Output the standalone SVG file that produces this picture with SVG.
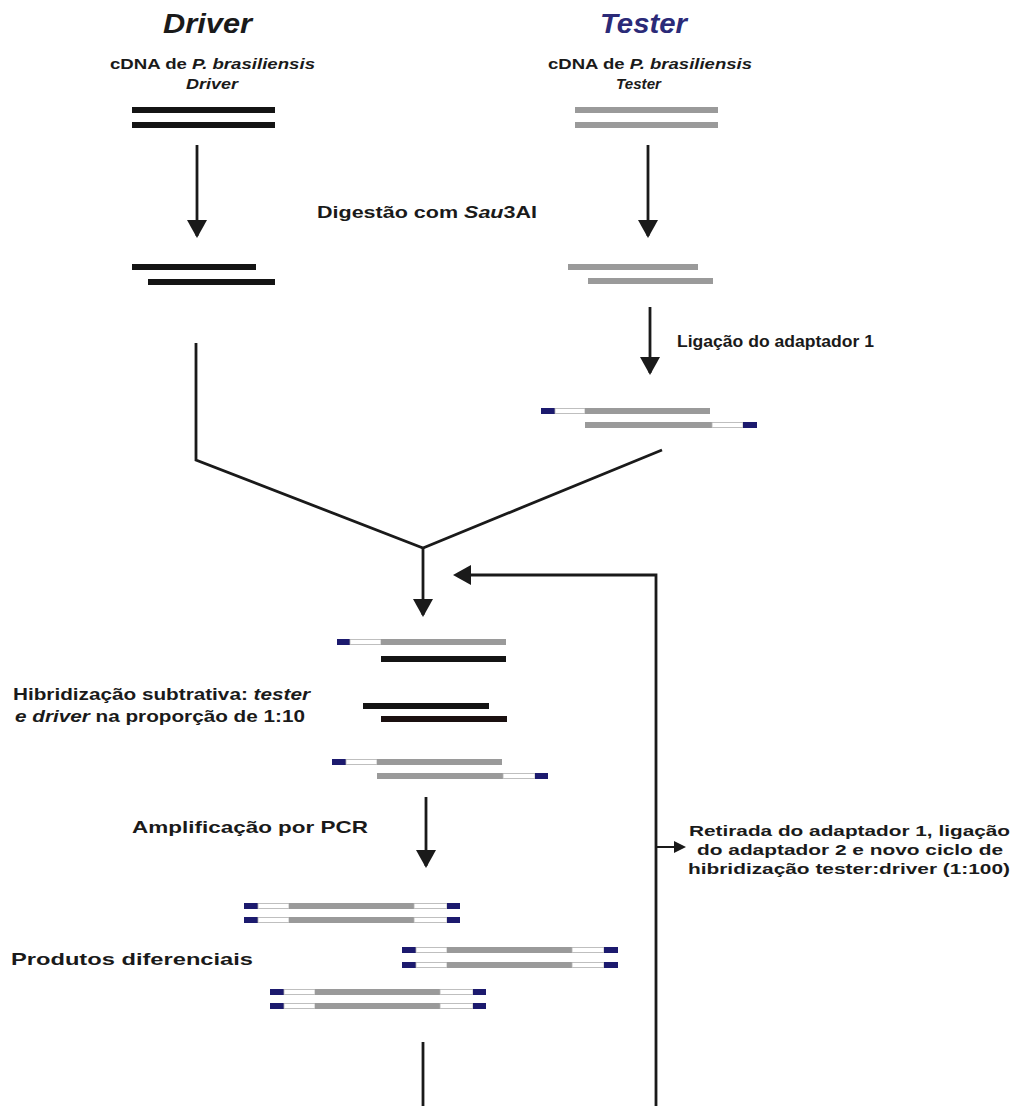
<svg xmlns="http://www.w3.org/2000/svg" width="1013" height="1106" viewBox="0 0 1013 1106">
<defs>
<style>
.t{font-family:"Liberation Sans",Arial,sans-serif;font-weight:bold;fill:#1a1a1a}
.title{font-size:28px;font-style:italic}
.sub{font-size:14.5px}
.lbl{font-size:17px}
.i{font-style:italic}
.blk{fill:#141414}
.gry{fill:#9a9a9a}
.wht{fill:#ffffff;stroke:#b0b0b0;stroke-width:0.8}
.blu{fill:#1c1a6e}
.ln{fill:none;stroke:#1a1a1a;stroke-width:2.8}
</style>
<marker id="ah" viewBox="0 0 10 10" refX="9" refY="5" markerWidth="18" markerHeight="18" markerUnits="userSpaceOnUse" orient="auto">
<path d="M0,0.5 L10,5 L0,9.5 z" fill="#1a1a1a"/>
</marker>
<marker id="ahb" viewBox="0 0 10 10" refX="9" refY="5" markerWidth="12" markerHeight="12" markerUnits="userSpaceOnUse" orient="auto">
<path d="M0,0.5 L10,5 L0,9.5 z" fill="#1a1a1a"/>
</marker>
</defs>
<rect width="1013" height="1106" fill="#ffffff"/>

<g id="driver-header">
<text class="t title" x="163" y="33" textLength="89" lengthAdjust="spacingAndGlyphs">Driver</text>
<text class="t sub" x="110" y="69" textLength="205" lengthAdjust="spacingAndGlyphs">cDNA de <tspan class="i">P. brasiliensis</tspan></text>
<text class="t sub i" x="186" y="89" textLength="52" lengthAdjust="spacingAndGlyphs">Driver</text>
</g>
<g id="tester-header">
<text class="t title" x="600" y="33" textLength="87" lengthAdjust="spacingAndGlyphs" style="fill:#2b2a78">Tester</text>
<text class="t sub" x="548" y="69" textLength="204" lengthAdjust="spacingAndGlyphs">cDNA de <tspan class="i">P. brasiliensis</tspan></text>
<text class="t sub i" x="616" y="89" textLength="45" lengthAdjust="spacingAndGlyphs">Tester</text>
</g>

<g id="driver-cdna">
<rect class="blk" x="132" y="107" width="143" height="6"/>
<rect class="blk" x="132" y="122" width="143" height="6"/>
</g>
<g id="tester-cdna">
<rect class="gry" x="575" y="107" width="143" height="6"/>
<rect class="gry" x="575" y="122" width="143" height="6"/>
</g>

<g id="digest-label">
<text class="t lbl" x="317" y="218" textLength="220" lengthAdjust="spacingAndGlyphs">Digestão com <tspan class="i">Sau</tspan>3AI</text>
</g>

<g id="driver-digested">
<rect class="blk" x="132" y="264" width="124" height="6"/>
<rect class="blk" x="148" y="279" width="127" height="6"/>
</g>
<g id="tester-digested">
<rect class="gry" x="568" y="264" width="130" height="6"/>
<rect class="gry" x="588" y="278" width="125" height="6"/>
</g>

<g id="ligation-label">
<text class="t lbl" x="677" y="347" textLength="197" lengthAdjust="spacingAndGlyphs">Ligação do adaptador 1</text>
</g>

<g id="tester-adapter1">
<rect class="blu" x="541" y="408" width="14" height="6"/>
<rect class="wht" x="555" y="408.5" width="30" height="5"/>
<rect class="gry" x="585" y="408" width="125" height="6"/>
<rect class="gry" x="585" y="422" width="127" height="6"/>
<rect class="wht" x="712" y="422.5" width="31" height="5"/>
<rect class="blu" x="743" y="422" width="14" height="6"/>
</g>

<g id="hybrid-label">
<text class="t lbl" x="13" y="700" textLength="297" lengthAdjust="spacingAndGlyphs">Hibridização subtrativa: <tspan class="i">tester</tspan></text>
<text class="t lbl" x="15" y="722" textLength="290" lengthAdjust="spacingAndGlyphs"><tspan class="i">e driver</tspan> na proporção de 1:10</text>
</g>

<g id="hybrid-products">
<rect class="blu" x="337" y="639" width="13" height="6"/>
<rect class="wht" x="350" y="639.5" width="31" height="5"/>
<rect class="gry" x="381" y="639" width="125" height="6"/>
<rect class="blk" x="381" y="656" width="125" height="6"/>
<rect class="blk" x="363" y="703" width="126" height="6"/>
<rect class="blk" x="381" y="716" width="126" height="6" style="fill:#1a1010"/>
<rect class="blu" x="332" y="759" width="14" height="6"/>
<rect class="wht" x="346" y="759.5" width="31" height="5"/>
<rect class="gry" x="377" y="759" width="125" height="6"/>
<rect class="gry" x="377" y="773" width="126" height="6"/>
<rect class="wht" x="503" y="773.5" width="32" height="5"/>
<rect class="blu" x="535" y="773" width="13" height="6"/>
</g>

<g id="pcr-label">
<text class="t lbl" x="132" y="833" textLength="236" lengthAdjust="spacingAndGlyphs">Amplificação por PCR</text>
</g>

<g id="products-label">
<text class="t lbl" x="11" y="965" textLength="242" lengthAdjust="spacingAndGlyphs">Produtos diferenciais</text>
</g>

<g id="pcr-products">
<g id="pair-a">
<rect class="blu" x="244" y="903" width="14" height="6"/>
<rect class="wht" x="258" y="903.5" width="31" height="5"/>
<rect class="gry" x="289" y="903" width="125" height="6"/>
<rect class="wht" x="414" y="903.5" width="33" height="5"/>
<rect class="blu" x="447" y="903" width="13" height="6"/>
<rect class="blu" x="244" y="917" width="14" height="6"/>
<rect class="wht" x="258" y="917.5" width="31" height="5"/>
<rect class="gry" x="289" y="917" width="125" height="6"/>
<rect class="wht" x="414" y="917.5" width="33" height="5"/>
<rect class="blu" x="447" y="917" width="13" height="6"/>
</g>
<g id="pair-b">
<rect class="blu" x="402" y="947" width="14" height="6"/>
<rect class="wht" x="416" y="947.5" width="31" height="5"/>
<rect class="gry" x="447" y="947" width="125" height="6"/>
<rect class="wht" x="572" y="947.5" width="32" height="5"/>
<rect class="blu" x="604" y="947" width="14" height="6"/>
<rect class="blu" x="402" y="962" width="14" height="6"/>
<rect class="wht" x="416" y="962.5" width="31" height="5"/>
<rect class="gry" x="447" y="962" width="125" height="6"/>
<rect class="wht" x="572" y="962.5" width="32" height="5"/>
<rect class="blu" x="604" y="962" width="14" height="6"/>
</g>
<g id="pair-c">
<rect class="blu" x="270" y="989" width="14" height="6"/>
<rect class="wht" x="284" y="989.5" width="31" height="5"/>
<rect class="gry" x="315" y="989" width="125" height="6"/>
<rect class="wht" x="440" y="989.5" width="33" height="5"/>
<rect class="blu" x="473" y="989" width="13" height="6"/>
<rect class="blu" x="270" y="1003" width="14" height="6"/>
<rect class="wht" x="284" y="1003.5" width="31" height="5"/>
<rect class="gry" x="315" y="1003" width="125" height="6"/>
<rect class="wht" x="440" y="1003.5" width="33" height="5"/>
<rect class="blu" x="473" y="1003" width="13" height="6"/>
</g>
</g>

<g id="cycle-label">
<text class="t sub" x="689" y="836" textLength="321" lengthAdjust="spacingAndGlyphs">Retirada do adaptador 1, ligação</text>
<text class="t sub" x="697" y="855" textLength="306" lengthAdjust="spacingAndGlyphs">do adaptador 2 e novo ciclo de</text>
<text class="t sub" x="688" y="874" textLength="322" lengthAdjust="spacingAndGlyphs">hibridização tester:driver (1:100)</text>
</g>

<g id="connectors">
<line class="ln" x1="197" y1="145" x2="197" y2="236"/>
<path d="M187,220 L207,220 L197,238 z" fill="#1a1a1a"/>
<line class="ln" x1="648" y1="145" x2="648" y2="236"/>
<path d="M638,220 L658,220 L648,238 z" fill="#1a1a1a"/>
<line class="ln" x1="650" y1="307" x2="650" y2="373"/>
<path d="M640,357 L660,357 L650,375 z" fill="#1a1a1a"/>
<polyline class="ln" points="196,343 196,460 423,548 662,450" style="stroke-linejoin:miter"/>
<line class="ln" x1="423" y1="548" x2="423" y2="615"/>
<path d="M413,599 L433,599 L423,617 z" fill="#1a1a1a"/>
<polyline class="ln" points="656,1106 656,575 458,575"/>
<path d="M471,565 L471,585 L453,575 z" fill="#1a1a1a"/>
<line class="ln" x1="656" y1="847" x2="678" y2="847" style="stroke-width:2"/>
<path d="M674,841 L674,853 L686,847 z" fill="#1a1a1a"/>
<line class="ln" x1="426" y1="797" x2="426" y2="866"/>
<path d="M416,850 L436,850 L426,868 z" fill="#1a1a1a"/>
<line class="ln" x1="423" y1="1042" x2="423" y2="1106"/>
</g>
</svg>
